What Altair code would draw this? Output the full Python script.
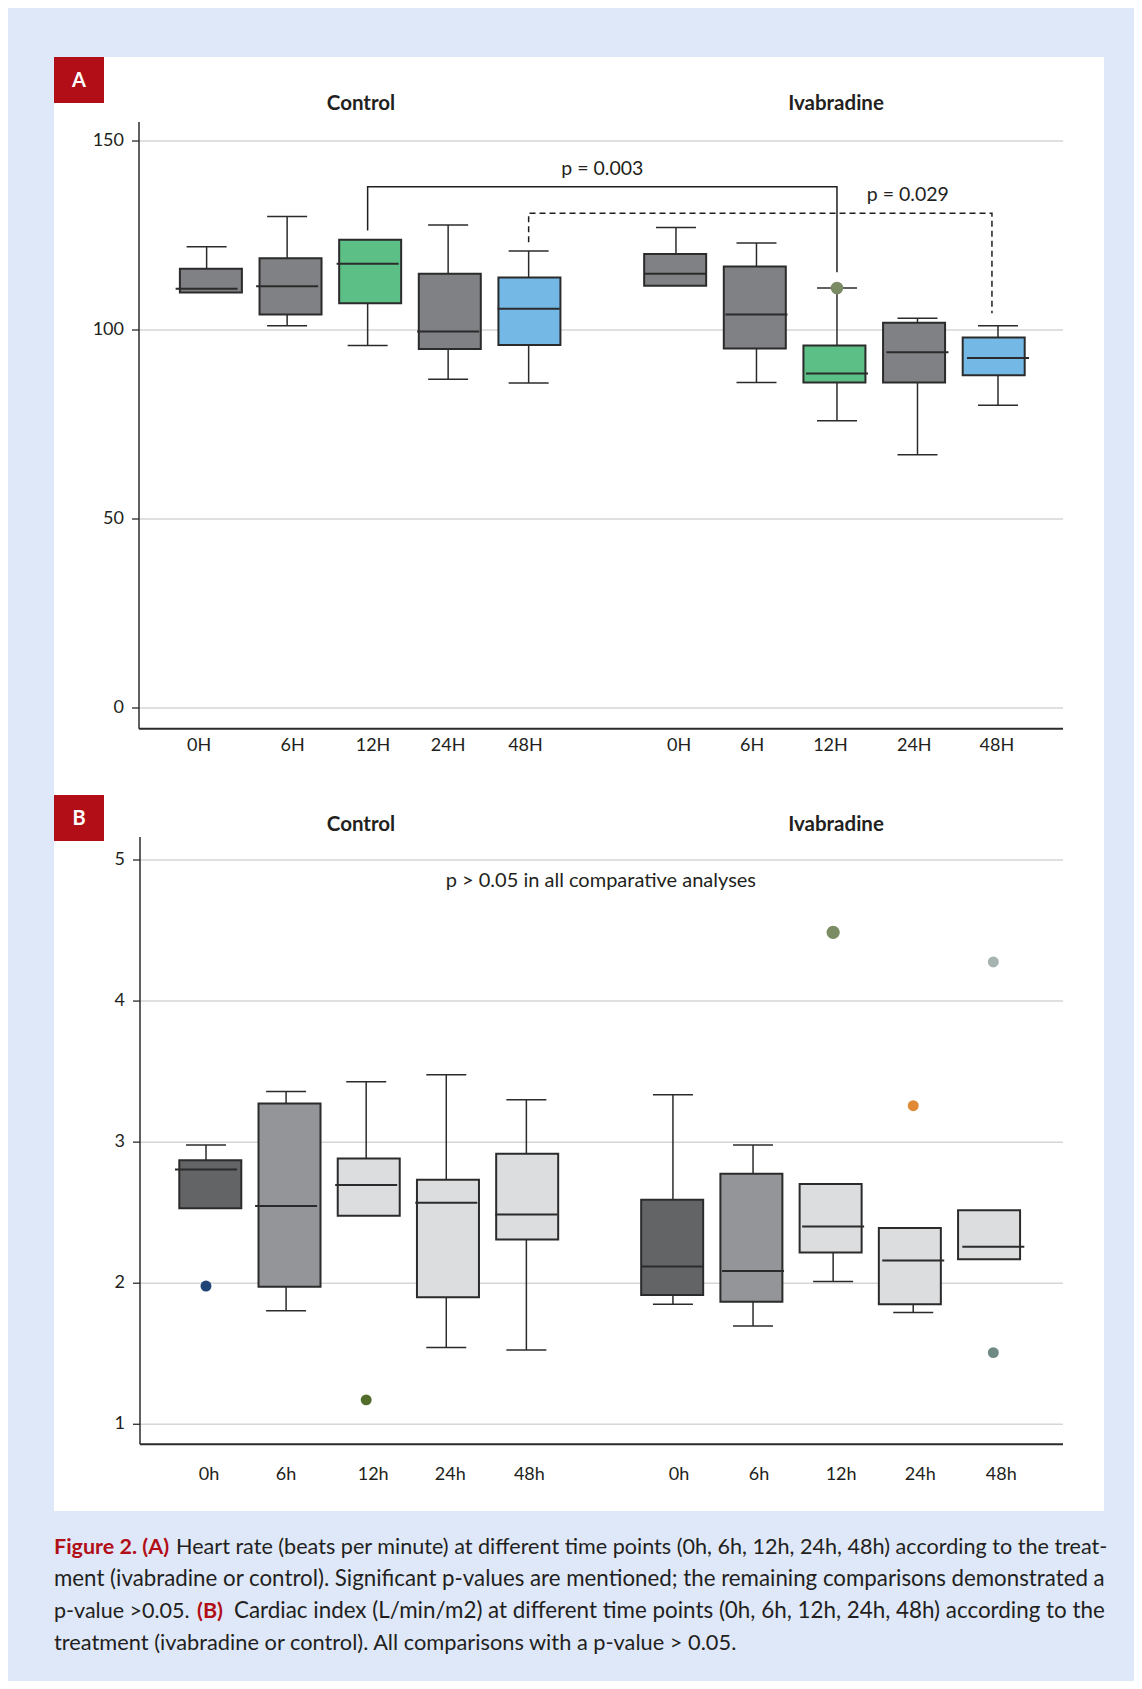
import altair as alt
import pandas as pd

FONT = "Lato"
DARK = "#2b2b2b"
RED = "#b20e17"
BG = "#dfe8f8"

groups = ["Control", "Ivabradine"]
times_A = ["0H", "6H", "12H", "24H", "48H"]
times_B = ["0h", "6h", "12h", "24h", "48h"]

# ---- Panel A: heart rate (bpm), Control 0H..48H then Ivabradine 0H..48H
A_min = [109.9, 101.1, 95.9, 87.0, 86.0, 111.7, 86.1, 76.0, 67.0, 80.1]
A_q1 = [109.9, 104.1, 107.1, 95.0, 96.0, 111.7, 95.1, 86.1, 86.1, 88.0]
A_med = [110.9, 111.6, 117.5, 99.6, 105.6, 114.9, 104.1, 88.5, 94.1, 92.6]
A_q3 = [116.2, 119.0, 123.9, 114.9, 113.9, 120.1, 116.8, 95.9, 101.9, 98.0]
A_max = [122.0, 130.0, 123.9, 127.8, 120.9, 127.1, 123.0, 111.1, 103.1, 101.1]
A_out_group = ["Ivabradine"]
A_out_time = ["12H"]
A_out_val = [111.1]
A_ticks = [0, 50, 100, 150]

# ---- Panel B: cardiac index (L/min/m2)
B_min = [2.532, 1.804, 2.478, 1.544, 1.527, 1.851, 1.697, 2.012, 1.792, 2.170]
B_q1 = [2.532, 1.974, 2.478, 1.901, 2.310, 1.917, 1.868, 2.217, 1.851, 2.170]
B_med = [2.806, 2.548, 2.697, 2.570, 2.487, 2.118, 2.087, 2.402, 2.161, 2.258]
B_q3 = [2.872, 3.274, 2.884, 2.733, 2.917, 2.591, 2.775, 2.704, 2.392, 2.518]
B_max = [2.979, 3.359, 3.428, 3.478, 3.300, 3.336, 2.979, 2.704, 2.392, 2.518]
B_out_group = ["Control", "Control", "Ivabradine", "Ivabradine", "Ivabradine", "Ivabradine"]
B_out_time = ["0h", "12h", "12h", "24h", "48h", "48h"]
B_out_val = [1.98, 1.173, 4.487, 3.258, 4.277, 1.508]
B_ticks = [1, 2, 3, 4, 5]

# styles
A_fill = {"0H": "#808184", "6H": "#808184", "12H": "#5bbf86", "24H": "#808184", "48H": "#74b8e5"}
B_fill = {"0h": "#636466", "6h": "#939598", "12h": "#dcdddf", "24h": "#dcdddf", "48h": "#dcdddf"}
A_out_color = ["#7b8b63"]
A_out_size = [160]
B_out_color = ["#1f4576", "#526d2a", "#7b8b63", "#e08a35", "#a7b3b0", "#6f8a85"]
B_out_size = [120, 120, 175, 120, 120, 120]
# small horizontal shifts (px) of the time labels relative to the box centres
A_lab_dx = [-7.5, 5.4, 5.4, 0, -3.2, 3.2, -4.3, -6.5, -3.2, -1.1]
B_lab_dx = [3, 0, 7, 4, 3, 6, 6, 8, 7, 8]

GAP = 5.83  # slot offset of the Ivabradine group

xA = alt.Scale(domain=[-0.84, 10.64], range=[85, 1009.2], nice=False, zero=False)
yA = alt.Scale(domain=[-5.5, 155], range=[671.8, 65.1], nice=False, zero=False)
xB = alt.Scale(domain=[-0.824, 10.70], range=[86, 1009], nice=False, zero=False)
yB = alt.Scale(domain=[0.858, 5.163], range=[1387.3, 780.0], nice=False, zero=False)
PX_A = (1009.2 - 85) / (10.64 + 0.84)
PX_B = (1009 - 86) / (10.70 + 0.824)


def slot_of(group, time, times):
    return times.index(time) + GAP * groups.index(group)


def box_df(mins, q1s, meds, q3s, maxs, times, fills):
    rows = []
    for g, grp in enumerate(groups):
        for i, t in enumerate(times):
            k = g * 5 + i
            rows.append(dict(group=grp, time=t, slot=slot_of(grp, t, times),
                             lo=mins[k], q1=q1s[k], med=meds[k], q3=q3s[k], hi=maxs[k],
                             fill=fills[t]))
    return pd.DataFrame(rows)


def text_layer(s, x, y, size=18, weight="normal", color="#231f20", align="left",
               baseline="alphabetic"):
    return alt.Chart(pd.DataFrame({"t": [s]})).mark_text(
        align=align, baseline=baseline, fontSize=size, fontWeight=weight,
        color=color, font=FONT).encode(x=alt.value(x), y=alt.value(y), text="t:N")


def panel_layers(df, out, xs, ys, ticks, times, ax_x0, ax_x1, xlab_y, dom, lab_dx, pxs):
    X = alt.X("slot:Q", scale=xs, axis=None)
    layers = []
    g = pd.DataFrame({"v": ticks})
    # gridlines
    layers.append(alt.Chart(g).mark_rule(color="#d6d6d6", strokeWidth=1.5).encode(
        y=alt.Y("v:Q", scale=ys, axis=None), x=alt.value(ax_x0), x2=alt.value(ax_x1)))
    # tick marks
    layers.append(alt.Chart(g).mark_rule(color=DARK, strokeWidth=1.3).encode(
        y=alt.Y("v:Q", scale=ys, axis=None), x=alt.value(ax_x0 - 7), x2=alt.value(ax_x0)))
    # tick labels
    layers.append(alt.Chart(g).mark_text(align="right", baseline="middle", fontSize=18,
                                         font=FONT, color="#231f20").encode(
        y=alt.Y("v:Q", scale=ys, axis=None), x=alt.value(ax_x0 - 15), text="v:Q"))
    # axis lines
    one = pd.DataFrame({"a": [0]})
    layers.append(alt.Chart(one).mark_rule(color=DARK, strokeWidth=1.5).encode(
        x=alt.value(ax_x0),
        y=alt.Y(datum=dom[0], type="quantitative", scale=ys, axis=None),
        y2=alt.Y2(datum=dom[1])))
    layers.append(alt.Chart(one).mark_rule(color=DARK, strokeWidth=2).encode(
        x=alt.value(ax_x0), x2=alt.value(ax_x1),
        y=alt.Y(datum=dom[0], type="quantitative", scale=ys, axis=None)))
    # x labels
    lab = pd.DataFrame([dict(t=t, slot=slot_of(grp, t, times))
                        for grp in groups for t in times])
    lab["slot"] = lab["slot"] + pd.Series(lab_dx) / pxs
    layers.append(alt.Chart(lab).mark_text(baseline="middle", fontSize=18, font=FONT,
                                           color="#231f20").encode(
        x=X, y=alt.value(xlab_y), text="t:N"))
    base = alt.Chart(df)
    # whiskers
    layers.append(base.transform_filter("datum.hi > datum.q3").mark_rule(
        color=DARK, strokeWidth=1.5).encode(x=X, y=alt.Y("q3:Q", scale=ys, axis=None), y2="hi:Q"))
    layers.append(base.transform_filter("datum.lo < datum.q1").mark_rule(
        color=DARK, strokeWidth=1.5).encode(x=X, y=alt.Y("lo:Q", scale=ys, axis=None), y2="q1:Q"))
    # boxes
    layers.append(base.mark_bar(size=62, stroke=DARK, strokeWidth=2).encode(
        x=X, y=alt.Y("q1:Q", scale=ys, axis=None), y2="q3:Q",
        fill=alt.Fill("fill:N", scale=None)))
    # medians
    layers.append(base.mark_rule(xOffset=-31, x2Offset=31, strokeWidth=2, color=DARK).encode(
        x=X, x2="slot:Q", y=alt.Y("med:Q", scale=ys, axis=None)))
    # caps
    layers.append(base.transform_filter("datum.hi > datum.q3").mark_rule(
        xOffset=-20, x2Offset=20, strokeWidth=1.5, color=DARK).encode(
        x=X, x2="slot:Q", y=alt.Y("hi:Q", scale=ys, axis=None)))
    layers.append(base.transform_filter("datum.lo < datum.q1").mark_rule(
        xOffset=-20, x2Offset=20, strokeWidth=1.5, color=DARK).encode(
        x=X, x2="slot:Q", y=alt.Y("lo:Q", scale=ys, axis=None)))
    # outliers
    layers.append(alt.Chart(out).mark_circle(opacity=1).encode(
        x=X, y=alt.Y("v:Q", scale=ys, axis=None),
        color=alt.Color("c:N", scale=None), size=alt.Size("s:Q", scale=None)))
    return layers


dfA = box_df(A_min, A_q1, A_med, A_q3, A_max, times_A, A_fill)
dfB = box_df(B_min, B_q1, B_med, B_q3, B_max, times_B, B_fill)
outA = pd.DataFrame(dict(slot=[slot_of(g, t, times_A) for g, t in zip(A_out_group, A_out_time)],
                         v=A_out_val, c=A_out_color, s=A_out_size))
outB = pd.DataFrame(dict(slot=[slot_of(g, t, times_B) for g, t in zip(B_out_group, B_out_time)],
                         v=B_out_val, c=B_out_color, s=B_out_size))

layers = []
layers += panel_layers(dfA, outA, xA, yA, A_ticks, times_A, 85, 1009, 689, [-5.5, 155],
                       A_lab_dx, PX_A)
layers += panel_layers(dfB, outB, xB, yB, B_ticks, times_B, 86, 1009, 1418, [0.858, 5.163],
                       B_lab_dx, PX_B)

# significance brackets (panel A)
s12c = slot_of("Control", "12H", times_A)
s12i = slot_of("Ivabradine", "12H", times_A)
s48c = slot_of("Control", "48H", times_A)
s48i = slot_of("Ivabradine", "48H", times_A) - 0.075
br1 = pd.DataFrame(dict(o=[0, 1, 2, 3], slot=[s12c, s12c, s12i, s12i],
                        v=[126.3, 137.9, 137.9, 115.3]))
br2 = pd.DataFrame(dict(o=[0, 1, 2, 3], slot=[s48c, s48c, s48i, s48i],
                        v=[123.2, 130.9, 130.9, 104.4]))
layers.append(alt.Chart(br1).mark_line(color="#1f1f1f", strokeWidth=1.5).encode(
    x=alt.X("slot:Q", scale=xA, axis=None), y=alt.Y("v:Q", scale=yA, axis=None), order="o:Q"))
layers.append(alt.Chart(br2).mark_line(color="#1f1f1f", strokeWidth=1.5, strokeDash=[6, 4]).encode(
    x=alt.X("slot:Q", scale=xA, axis=None), y=alt.Y("v:Q", scale=yA, axis=None), order="o:Q"))
ptxt = pd.DataFrame(dict(slot=[(s12c + s12i) / 2, 8.71], v=[142.6, 135.7],
                         t=["p = 0.003", "p = 0.029"]))
layers.append(alt.Chart(ptxt).mark_text(fontSize=19.5, font=FONT, color="#231f20",
                                        baseline="middle").encode(
    x=alt.X("slot:Q", scale=xA, axis=None), y=alt.Y("v:Q", scale=yA, axis=None), text="t:N"))
ntxt = pd.DataFrame(dict(slot=[4.93], v=[4.85], t=["p > 0.05 in all comparative analyses"]))
layers.append(alt.Chart(ntxt).mark_text(fontSize=20, font=FONT, color="#231f20",
                                        baseline="middle").encode(
    x=alt.X("slot:Q", scale=xB, axis=None), y=alt.Y("v:Q", scale=yB, axis=None), text="t:N"))

# panel tags and group titles
for tag, y0 in [("A", 0), ("B", 738)]:
    layers.append(alt.Chart(pd.DataFrame({"a": [0]})).mark_rect(color=RED).encode(
        x=alt.value(0), x2=alt.value(50), y=alt.value(y0), y2=alt.value(y0 + 46)))
    layers.append(text_layer(tag, 25, y0 + 24, size=20, weight="bold", color="white",
                             align="center", baseline="middle"))
for ty in [47, 768]:
    layers.append(text_layer("Control", 307, ty, size=20.5, weight="bold", align="center",
                             baseline="middle"))
    layers.append(text_layer("Ivabradine", 782, ty, size=20.5, weight="bold", align="center",
                             baseline="middle"))

# caption
layers.append(text_layer("Figure 2. (A)", 0, 1497, size=21.5, weight="bold", color=RED))
layers.append(text_layer("Heart rate (beats per minute) at different time points (0h, 6h, 12h, 24h, 48h) according to the treat-",
                         122, 1497, size=21.6))
layers.append(text_layer("ment (ivabradine or control). Significant p-values are mentioned; the remaining comparisons demonstrated a",
                         0, 1529, size=22.3))
layers.append(text_layer("p-value >0.05.", 0, 1561, size=21.5))
layers.append(text_layer("(B)", 143, 1561, size=21.5, weight="bold", color=RED))
layers.append(text_layer("Cardiac index (L/min/m2) at different time points (0h, 6h, 12h, 24h, 48h) according to the",
                         180, 1561, size=22.4))
layers.append(text_layer("treatment (ivabradine or control). All comparisons with a p-value > 0.05.",
                         0, 1593, size=21.8))

chart = alt.layer(*layers).resolve_scale(x="independent", y="independent").properties(
    width=1050, height=1454, background=BG,
    padding={"left": 46, "top": 49, "right": 30, "bottom": 170},
    autosize=alt.AutoSizeParams(type="none"),
).configure_view(fill="white", stroke=None)

chart.save("out.html", embed_options={"renderer": "svg", "actions": False})
